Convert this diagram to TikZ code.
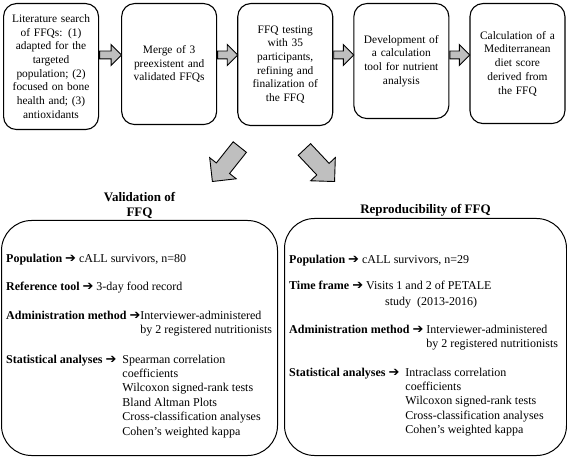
\documentclass[tikz,border=0pt]{standalone}
\usepackage{fontspec}
\setmainfont{Liberation Serif}
\newfontfamily\arrowfont{DejaVu Sans}
\usepackage{tikz}
\usetikzlibrary{positioning,shapes.arrows,calc}

\newcommand{\goesto}{{\arrowfont\fontsize{13}{13}\selectfont\raisebox{-0.3pt}{\char"2794}}}
\newcommand{\stack}[1]{\begin{tabular}[t]{@{}l@{}}#1\end{tabular}}

\begin{document}
\begin{tikzpicture}[x=1pt, y=-1pt,
  stage/.style={rectangle, draw=black, line width=1.1pt, rounded corners=13pt, text width=89pt, inner xsep=3pt, align=center, anchor=north west, font=\fontsize{11.4}{13.7}\selectfont},
  panel/.style={rectangle, draw=black, line width=1pt, rounded corners=30pt, inner sep=0pt, anchor=north west},
  heading/.style={align=center, inner sep=0pt, font=\fontsize{13}{15}\selectfont\bfseries},
  entry/.style={anchor=base west, inner sep=0pt, font=\fontsize{12}{14.4}\selectfont},
  flow/.style={single arrow, draw=black, line width=0.9pt, fill=gray!50, inner xsep=0pt, inner ysep=3.5pt, single arrow head extend=6.5pt, anchor=tail},
  branch/.style={single arrow, draw=black, line width=0.9pt, fill=gray!50, minimum height=44pt, inner xsep=0pt, inner ysep=8pt, single arrow head extend=8.5pt, anchor=tip}]

  \useasboundingbox (0,0) rectangle (567,470);

  % development steps
  \node [stage, minimum height=126pt] (search) at (3,3) {Literature search\\of FFQs: (1)\\adapted for the\\targeted\\population; (2)\\focused on bone\\health and; (3)\\antioxidants};
  \node [stage, minimum height=121pt, right=22pt of search.north east, anchor=north west] (merge) {Merge of 3\\preexistent and\\validated FFQs};
  \node [stage, minimum height=122pt, right=20pt of merge.north east, anchor=north west] (testing) {FFQ testing\\with 35\\participants,\\refining and\\finalization of\\the FFQ};
  \node [stage, minimum height=115pt, right=20pt of testing.north east, anchor=north west] (tool) {Development of\\a calculation\\tool for nutrient\\analysis};
  \node [stage, minimum height=120pt, right=20pt of tool.north east, anchor=north west] (score) {Calculation of a\\Mediterranean\\diet score\\derived from\\the FFQ};

  % arrows between the steps
  \coordinate (axis) at (0,55);
  \node [flow, minimum height=22pt] (step1) at (search.east |- axis) {};
  \node [flow, minimum height=20pt] (step2) at (merge.east |- axis) {};
  \node [flow, minimum height=20pt] (step3) at (testing.east |- axis) {};
  \node [flow, minimum height=20pt] (step4) at (tool.east |- axis) {};

  % the two studies
  \node [branch, rotate=231.5] (tovalid) at (212,182) {};
  \node [branch, rotate=-46.8] (torepro) at (335,182) {};

  \node [panel, minimum width=276pt, minimum height=235pt] (valid) at (1,220) {};
  \node [panel, minimum width=282pt, minimum height=237pt] (repro) at (284,218) {};
  \node [heading, above=1pt of valid] (validhead) {Validation of\\FFQ};
  \node [heading, above=1pt of repro] (reprohead) {Reproducibility of FFQ};

  % validation
  \node [entry] (vpop) at ($(valid.north west)+(5,42)$) {\textbf{Population} \goesto\ cALL survivors, n=80};
  \node [entry] (vref) at ($(valid.north west)+(5,70)$) {\textbf{Reference tool} \goesto\ 3-day food record};
  \node [entry] (vadmin) at ($(valid.north west)+(5,99)$) {\textbf{Administration method} \goesto\stack{Interviewer-administered\\by 2 registered nutritionists}};
  \node [entry] (vstats) at ($(valid.north west)+(5,143)$) {\textbf{Statistical analyses} \goesto\ \ \stack{Spearman correlation\\coefficients\\Wilcoxon signed-rank tests\\Bland Altman Plots\\Cross-classification analyses\\Cohen's weighted kappa}};

  % reproducibility
  \node [entry] (rpop) at ($(repro.north west)+(5,45)$) {\textbf{Population} \goesto\ cALL survivors, n=29};
  \node [entry] (rtime) at ($(repro.north west)+(5,71)$) {\textbf{Time frame} \goesto\ \stack{Visits 1 and 2 of PETALE\\[1.6pt]\hspace*{19pt}study\ \ (2013-2016)}};
  \node [entry] (radmin) at ($(repro.north west)+(5,115)$) {\textbf{Administration method} \goesto\ \stack{Interviewer-administered\\by 2 registered nutritionists}};
  \node [entry] (rstats) at ($(repro.north west)+(5,158)$) {\textbf{Statistical analyses} \goesto\ \ \stack{Intraclass correlation\\coefficients\\Wilcoxon signed-rank tests\\Cross-classification analyses\\Cohen's weighted kappa}};
\end{tikzpicture}
\end{document}
